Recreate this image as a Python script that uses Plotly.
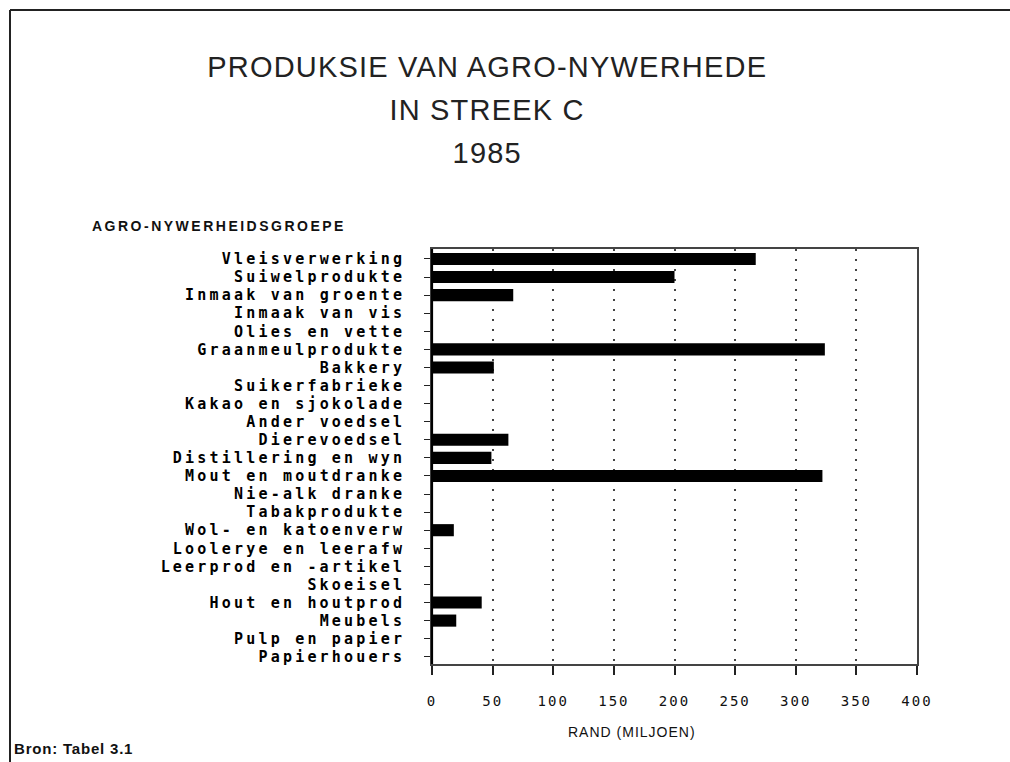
import plotly.graph_objects as go

categories = [
    "Vleisverwerking", "Suiwelprodukte", "Inmaak van groente", "Inmaak van vis",
    "Olies en vette", "Graanmeulprodukte", "Bakkery", "Suikerfabrieke",
    "Kakao en sjokolade", "Ander voedsel", "Dierevoedsel", "Distillering en wyn",
    "Mout en moutdranke", "Nie-alk dranke", "Tabakprodukte", "Wol- en katoenverw",
    "Loolerye en leerafw", "Leerprod en -artikel", "Skoeisel", "Hout en houtprod",
    "Meubels", "Pulp en papier", "Papierhouers",
]
values = [267, 200, 67, 0, 0, 324, 51, 0, 0, 0, 63, 49, 322, 0, 0, 18, 0, 0, 0, 41, 20, 0, 0]
x_ticks = [0, 50, 100, 150, 200, 250, 300, 350, 400]

title_lines = ["PRODUKSIE VAN AGRO-NYWERHEDE", "IN STREEK C", "1985"]
y_title = "AGRO-NYWERHEIDSGROEPE"
x_title = "RAND (MILJOEN)"
source = "Bron: Tabel 3.1"

W, H = 1010, 762
L, R, T, B = 432, 93, 249, 98
PW, PH = W - L - R, H - T - B


def px(x):
    return (x - L) / PW


def py(y):
    return (H - B - y) / PH


fig = go.Figure()
fig.add_trace(go.Bar(
    x=values, y=categories, orientation="h",
    marker=dict(color="#000000", line=dict(width=0)),
    hoverinfo="x+y",
))

mono = "DejaVu Sans Mono"
fig.update_layout(
    width=W, height=H,
    margin=dict(l=L, r=R, t=T, b=B, pad=0),
    paper_bgcolor="white", plot_bgcolor="white",
    showlegend=False,
    bargap=0.33,
    xaxis=dict(
        range=[0, 400], tickvals=x_ticks, ticktext=[str(v) for v in x_ticks],
        showgrid=True, gridcolor="#444", gridwidth=2.2, griddash="2px,8px",
        zeroline=False, showline=True, linecolor="#444", linewidth=1.5, mirror=True,
        ticks="outside", ticklen=9, tickwidth=1.5, tickcolor="#222",
        tickfont=dict(family=mono, size=14, color="#111"),
        ticklabelstandoff=14,
    ),
    yaxis=dict(
        type="category", categoryorder="array", categoryarray=categories,
        range=[22.4, -0.55],
        showgrid=False, zeroline=False, showline=True, linecolor="#444", linewidth=1.5,
        mirror=True,
        ticks="outside", ticklen=6, tickwidth=1.2, tickcolor="#222",
        tickfont=dict(family=mono, size=15, color="#000", weight="bold"),
        ticklabelstandoff=16,
    ),
)

title_y = [67, 110, 153]
for line, yy in zip(title_lines, title_y):
    fig.add_annotation(text=line, x=px(487), y=py(yy), xref="paper", yref="paper",
                       xanchor="center", yanchor="middle", showarrow=False,
                       font=dict(family="Liberation Sans", size=29, color="#222"))

fig.add_annotation(text=y_title, x=px(90), y=py(226), xref="paper", yref="paper",
                   xanchor="left", yanchor="middle", showarrow=False, align="left",
                   font=dict(family="Liberation Sans", size=14, color="#111", weight="bold"))
fig.add_annotation(text=x_title, x=px(632), y=py(732), xref="paper", yref="paper",
                   xanchor="center", yanchor="middle", showarrow=False,
                   font=dict(family="Liberation Sans", size=14, color="#111"))
fig.add_annotation(text=source, x=px(12), y=py(748), xref="paper", yref="paper",
                   xanchor="left", yanchor="middle", showarrow=False, align="left",
                   font=dict(family="Liberation Sans", size=15, color="#111", weight="bold"))

# outer frame (left and top edges)
fig.add_shape(type="line", xref="paper", yref="paper",
              x0=px(10), x1=px(10), y0=py(10), y1=py(H),
              line=dict(color="#222", width=2))
fig.add_shape(type="line", xref="paper", yref="paper",
              x0=px(10), x1=px(W), y0=py(10), y1=py(10),
              line=dict(color="#222", width=2))
# heavier left axis line
fig.add_shape(type="line", xref="paper", yref="paper",
              x0=0, x1=0, y0=0, y1=1, line=dict(color="#000", width=2.2))

post = """
var s=document.createElement('style');
s.innerHTML='body{margin:0;overflow:hidden}'
 + '.ytick text{letter-spacing:3.2px}'
 + '.xtick text{letter-spacing:2px}'
 + '.annotation-text[data-unformatted="PRODUKSIE VAN AGRO-NYWERHEDE"],'
 + '.annotation-text[data-unformatted="IN STREEK C"],'
 + '.annotation-text[data-unformatted="1985"]{letter-spacing:1.2px}'
 + '.annotation-text[data-unformatted="AGRO-NYWERHEIDSGROEPE"]{letter-spacing:2.5px}'
 + '.annotation-text[data-unformatted="RAND (MILJOEN)"]{letter-spacing:1px}'
 + '.annotation-text[data-unformatted="Bron: Tabel 3.1"]{letter-spacing:0.8px}';
document.head.appendChild(s);
"""
fig.write_html("out.html", post_script=post, config={"displayModeBar": False})
